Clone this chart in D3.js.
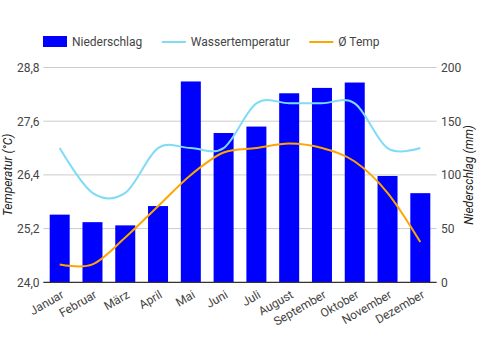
<!DOCTYPE html>
<html>
<head>
<meta charset="utf-8">
<script src="https://cdn.jsdelivr.net/npm/d3@7"></script>
<style>
  html, body { margin: 0; padding: 0; background: #fff; }
  svg { display: block; font-family: Roboto, "Noto Sans", sans-serif; }
</style>
</head>
<body>
<div id="chart"></div>
<script>
// Monthly climate values
const MONTHS = ['Januar', 'Februar', 'März', 'April', 'Mai', 'Juni', 'Juli',
  'August', 'September', 'Oktober', 'November', 'Dezember'];
const PRECIP = [63, 56, 53, 71, 187, 139, 145, 176, 181, 186, 99, 83];        // mm
const WATER_TEMP = [27.0, 26.0, 26.0, 27.0, 27.0, 27.0, 28.0, 28.0, 28.0, 28.0, 27.0, 27.0];
const AIR_TEMP = [24.4, 24.4, 25.0, 25.7, 26.4, 26.9, 27.0, 27.1, 27.0, 26.7, 26.0, 24.9];
const TEMP_TICKS = [24.0, 25.2, 26.4, 27.6, 28.8];
const PRECIP_TICKS = [0, 50, 100, 150, 200];

const LEGEND = [
  { label: 'Niederschlag', type: 'rect', color: '#0000ff' },
  { label: 'Wassertemperatur', type: 'line', color: '#80dbf7' },
  { label: 'Ø Temp', type: 'line', color: '#ffa500' },
];

(function () {
  const W = 481, H = 350;
  const left = 43.3, right = 436.7, top = 67.5, bottom = 282.3;
  const TEXT = '#444';

  const svg = d3.select('#chart').append('svg').attr('width', W).attr('height', H);

  const x = d3.scaleBand().domain(MONTHS).range([left, right])
    .paddingInner(0.39).paddingOuter(0.195);
  const yT = d3.scaleLinear().domain([24.0, 28.8]).range([bottom, top]);
  const yP = d3.scaleLinear().domain([0, 200]).range([bottom, top]);

  // gridlines (temperature axis drives them)
  svg.append('g').selectAll('line').data(TEMP_TICKS.slice(1)).enter().append('line')
    .attr('x1', left).attr('x2', right)
    .attr('y1', d => yT(d)).attr('y2', d => yT(d))
    .attr('stroke', '#cccccc').attr('stroke-width', 1);

  // bars
  svg.append('g').selectAll('rect').data(PRECIP).enter().append('rect')
    .attr('x', (d, i) => x(MONTHS[i]))
    .attr('width', x.bandwidth())
    .attr('y', d => yP(d))
    .attr('height', d => bottom - yP(d))
    .attr('fill', '#0000ff');

  // lines
  const cx = i => x(MONTHS[i]) + x.bandwidth() / 2;
  const line = d3.line().x((d, i) => cx(i)).y(d => yT(d)).curve(d3.curveCardinal.tension(0));
  svg.append('path').datum(WATER_TEMP).attr('d', line)
    .attr('fill', 'none').attr('stroke', '#80dbf7').attr('stroke-width', 2);
  svg.append('path').datum(AIR_TEMP).attr('d', line)
    .attr('fill', 'none').attr('stroke', '#ffa500').attr('stroke-width', 2);

  // baseline
  svg.append('line').attr('x1', left).attr('x2', right)
    .attr('y1', bottom).attr('y2', bottom)
    .attr('stroke', '#333').attr('stroke-width', 1.3);

  // left axis labels
  svg.append('g').selectAll('text').data(TEMP_TICKS).enter().append('text')
    .attr('x', 39.5).attr('y', d => yT(d) + 4.5)
    .attr('text-anchor', 'end').style('font-size', '12px').style('fill', TEXT)
    .text(d => d3.format('.1f')(d).replace('.', ','));

  // right axis labels
  svg.append('g').selectAll('text').data(PRECIP_TICKS).enter().append('text')
    .attr('x', 441).attr('y', d => yP(d) + 4.5)
    .attr('text-anchor', 'start').style('font-size', '12px').style('fill', TEXT)
    .text(d => d);

  // x labels, rotated
  svg.append('g').selectAll('text').data(MONTHS).enter().append('text')
    .attr('transform', (d, i) => `translate(${cx(i) + 3},${bottom + 11}) rotate(-30)`)
    .attr('text-anchor', 'end').attr('dy', '0.35em')
    .style('font-size', '12px').style('fill', TEXT)
    .text(d => d);

  // axis titles
  svg.append('text')
    .attr('transform', `translate(12,${(top + bottom) / 2}) rotate(-90)`)
    .attr('text-anchor', 'middle').style('font-size', '12px').style('font-style', 'italic')
    .style('fill', '#222').text('Temperatur (°C)');
  svg.append('text')
    .attr('transform', `translate(473,${(top + bottom) / 2}) rotate(-90)`)
    .attr('text-anchor', 'middle').style('font-size', '12px').style('font-style', 'italic')
    .style('fill', '#222').text('Niederschlag (mm)');

  // legend
  const lg = svg.append('g');
  let lx = 43;
  LEGEND.forEach(item => {
    if (item.type === 'rect') {
      lg.append('rect').attr('x', lx).attr('y', 36).attr('width', 24).attr('height', 11)
        .attr('fill', item.color);
    } else {
      lg.append('line').attr('x1', lx).attr('x2', lx + 24).attr('y1', 42).attr('y2', 42)
        .attr('stroke', item.color).attr('stroke-width', 2);
    }
    const t = lg.append('text').attr('x', lx + 29).attr('y', 46)
      .style('font-size', '12px').style('fill', TEXT).text(item.label);
    lx += 29 + t.node().getComputedTextLength() + 19.5;
  });
})();
</script>
</body>
</html>
